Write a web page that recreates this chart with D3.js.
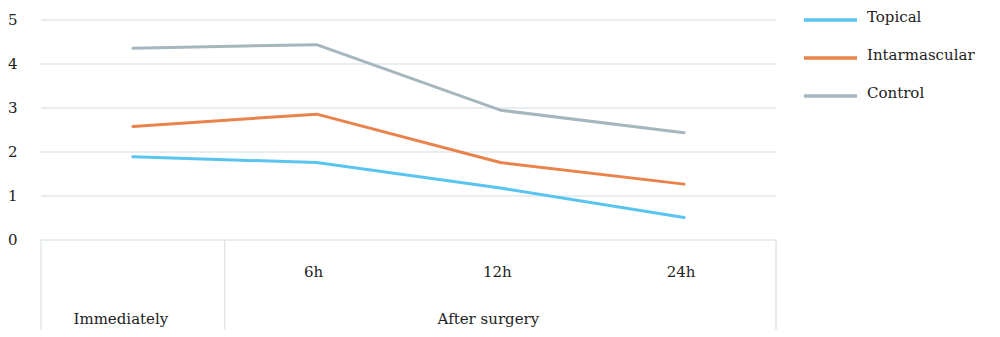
<!DOCTYPE html>
<html>
<head>
<meta charset="utf-8">
<script src="https://cdn.jsdelivr.net/npm/d3@7"></script>
<style>
  body { margin: 0; background: #fff; }
  svg { display: block; font-family: "DejaVu Serif", serif; }
</style>
</head>
<body>
<div id="chart"></div>
<script>
const width = 1000;
const height = 337;
const margin = { top: 20, right: 224, bottom: 97, left: 41 };

// data
const categories = ["Immediately", "6h", "12h", "24h"];
const groups = [
  { label: "Immediately", items: ["Immediately"] },
  { label: "After surgery", items: ["6h", "12h", "24h"] }
];
const seriesNames = ["Topical", "Intarmascular", "Control"];
const topical = [1.89, 1.76, 1.18, 0.51];
const intramuscular = [2.58, 2.86, 1.76, 1.27];
const control = [4.36, 4.44, 2.95, 2.44];
const yTicks = [0, 1, 2, 3, 4, 5];

const seriesValues = [topical, intramuscular, control];
const colors = ["#5ac4f0", "#e9834b", "#a6b6bf"];

const svg = d3.select("#chart")
  .append("svg")
  .attr("width", width)
  .attr("height", height);

const x = d3.scaleBand()
  .domain(categories)
  .range([margin.left, width - margin.right]);

const y = d3.scaleLinear()
  .domain([0, 5])
  .range([height - margin.bottom, margin.top]);

const gridColor = "#e1e7eb";
const fontSize = 15;

// gridlines
svg.append("g")
  .selectAll("line")
  .data(yTicks)
  .join("line")
  .attr("x1", margin.left)
  .attr("x2", width - margin.right)
  .attr("y1", d => y(d))
  .attr("y2", d => y(d))
  .attr("stroke", gridColor)
  .attr("stroke-width", 1.5);

// y labels
svg.append("g")
  .selectAll("text")
  .data(yTicks)
  .join("text")
  .attr("x", 8)
  .attr("y", d => y(d) + 5)
  .attr("font-size", fontSize)
  .attr("fill", "#222")
  .text(d => d);

// category axis (two levels)
const axisBottom = height - 7;
const boundaries = [x(categories[0])];
groups.forEach(g => {
  const last = g.items[g.items.length - 1];
  boundaries.push(x(last) + x.bandwidth());
});

svg.append("g")
  .selectAll("line")
  .data(boundaries)
  .join("line")
  .attr("x1", d => d)
  .attr("x2", d => d)
  .attr("y1", y(0))
  .attr("y2", axisBottom)
  .attr("stroke", gridColor)
  .attr("stroke-width", 1.5);

svg.append("g")
  .selectAll("text")
  .data(categories.filter(c => !groups.some(g => g.label === c)))
  .join("text")
  .attr("x", d => x(d) + x.bandwidth() / 2 - 3)
  .attr("y", y(0) + 37)
  .attr("text-anchor", "middle")
  .attr("font-size", fontSize)
  .attr("fill", "#222")
  .text(d => d);

svg.append("g")
  .selectAll("text")
  .data(groups)
  .join("text")
  .attr("x", g => {
    const start = x(g.items[0]);
    const end = x(g.items[g.items.length - 1]) + x.bandwidth();
    return (start + end) / 2 - 12;
  })
  .attr("y", y(0) + 84)
  .attr("text-anchor", "middle")
  .attr("font-size", fontSize)
  .attr("fill", "#222")
  .text(g => g.label);

// lines
const line = d3.line()
  .x((d, i) => x(categories[i]) + x.bandwidth() / 2)
  .y(d => y(d));

svg.append("g")
  .selectAll("path")
  .data(seriesValues)
  .join("path")
  .attr("fill", "none")
  .attr("stroke", (d, i) => colors[i])
  .attr("stroke-width", 3)
  .attr("stroke-linejoin", "round")
  .attr("stroke-linecap", "round")
  .attr("d", line);

// legend
const legend = svg.append("g")
  .selectAll("g")
  .data(seriesNames)
  .join("g")
  .attr("transform", (d, i) => `translate(804, ${20 + i * 38})`);

legend.append("line")
  .attr("x1", 0)
  .attr("x2", 53)
  .attr("stroke", (d, i) => colors[i])
  .attr("stroke-width", 3.5);

legend.append("text")
  .attr("x", 63)
  .attr("y", 2)
  .attr("font-size", fontSize)
  .attr("fill", "#222")
  .text(d => d);
</script>
</body>
</html>
